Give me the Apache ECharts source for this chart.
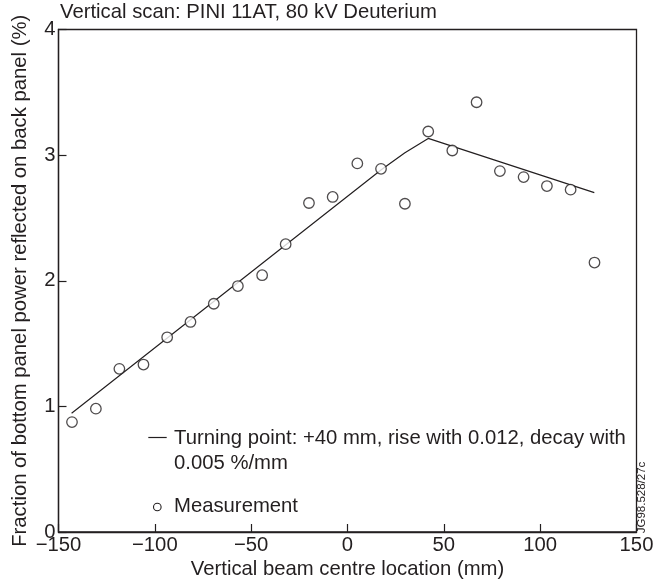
<!DOCTYPE html>
<html>
<head>
<meta charset="utf-8">
<script src="https://cdn.jsdelivr.net/npm/echarts@6/dist/echarts.min.js"></script>
<style>
  html, body { margin: 0; padding: 0; background: #fff; }
  #chart { width: 660px; height: 585px; }
</style>
</head>
<body>
<div id="chart"></div>
<script>
// measured points (mm, %)
const measX = [-143.0, -130.6, -118.4, -105.9, -93.6, -81.5, -69.4, -56.9, -44.3, -32.1, -20.0, -7.7,
               5.1, 17.4, 29.8, 41.9, 54.4, 67.0, 79.1, 91.4, 103.5, 115.8, 128.2];
const measY = [0.875, 0.982, 1.299, 1.333, 1.550, 1.672, 1.817, 1.958, 2.044, 2.291, 2.619, 2.667,
               2.934, 2.891, 2.613, 3.188, 3.037, 3.421, 2.873, 2.825, 2.754, 2.725, 2.145];

// fitted curve
const fitX = [-143.2, 17.7, 29.8, 41.9, 128.1];
const fitY = [0.946, 2.886, 3.018, 3.133, 2.701];

const titleText = 'Vertical scan: PINI 11AT, 80 kV Deuterium';
const xName = 'Vertical beam centre location (mm)';
const yName = 'Fraction of bottom panel power reflected on back panel (%)';
const fitLabel = ['Turning point: +40 mm, rise with 0.012, decay with', '0.005 %/mm'];
const measLabel = 'Measurement';
const figCode = 'JG98.528/27c';

const ink = '#231f20';
const font = '"Liberation Sans", Arial, sans-serif';
const fs = 20.3;

const chart = echarts.init(document.getElementById('chart'), null, { renderer: 'canvas' });

const axisCommon = {
  type: 'value',
  nameLocation: 'middle',
  nameTextStyle: { fontSize: fs, color: ink, fontFamily: font },
  axisLine: { show: true, onZero: false, lineStyle: { color: ink, width: 1.3 } },
  axisTick: { show: true, inside: true, length: 8, lineStyle: { color: ink, width: 1.2 } },
  splitLine: { show: false },
};

const option = {
  animation: false,
  backgroundColor: '#fff',
  textStyle: { fontFamily: font },
  title: {
    text: titleText,
    left: 60,
    top: 2,
    padding: 0,
    textStyle: { fontSize: fs, fontWeight: 'normal', color: ink, fontFamily: font }
  },
  grid: {
    left: 58.5, right: 23.5, top: 29.5, bottom: 53,
    show: true, borderColor: ink, borderWidth: 1.3
  },
  xAxis: Object.assign({}, axisCommon, {
    min: -150, max: 150, interval: 50,
    name: xName, nameGap: 23,
    axisLabel: {
      fontSize: fs, color: ink, margin: 3, fontFamily: font,
      formatter: v => String(v).replace('-', '\u2212')
    }
  }),
  yAxis: Object.assign({}, axisCommon, {
    min: 0, max: 4, interval: 1,
    name: yName, nameGap: 28,
    axisLabel: { fontSize: fs, color: ink, margin: 3, fontFamily: font }
  }),
  series: [
    {
      name: 'fit',
      type: 'line',
      data: fitX.map((x, i) => [x, fitY[i]]),
      symbol: 'none',
      lineStyle: { color: ink, width: 1.2 },
      z: 2
    },
    {
      name: 'measurement',
      type: 'scatter',
      data: measX.map((x, i) => [x, measY[i]]),
      symbol: 'circle',
      symbolSize: 10.5,
      itemStyle: { color: '#fff', borderColor: ink, borderWidth: 1.3 },
      z: 3
    }
  ],
  graphic: [
    {
      type: 'line',
      shape: { x1: 148.3, y1: 437.5, x2: 166.7, y2: 437.5 },
      style: { stroke: ink, lineWidth: 1.2 }
    },
    {
      type: 'text', x: 174, y: 438,
      style: { text: fitLabel[0], fontSize: fs, fontFamily: font, fill: ink, align: 'left', verticalAlign: 'middle' }
    },
    {
      type: 'text', x: 174, y: 463,
      style: { text: fitLabel[1], fontSize: fs, fontFamily: font, fill: ink, align: 'left', verticalAlign: 'middle' }
    },
    {
      type: 'circle',
      shape: { cx: 157.3, cy: 507, r: 3.8 },
      style: { fill: '#fff', stroke: ink, lineWidth: 1.1 }
    },
    {
      type: 'text', x: 174, y: 506,
      style: { text: measLabel, fontSize: fs, fontFamily: font, fill: ink, align: 'left', verticalAlign: 'middle' }
    },
    {
      type: 'text', x: 641.5, y: 497.5, rotation: Math.PI / 2,
      style: { text: figCode, fontSize: 11.5, fontFamily: font, fill: ink, align: 'center', verticalAlign: 'middle' }
    }
  ]
};

chart.setOption(option);
</script>
</body>
</html>
